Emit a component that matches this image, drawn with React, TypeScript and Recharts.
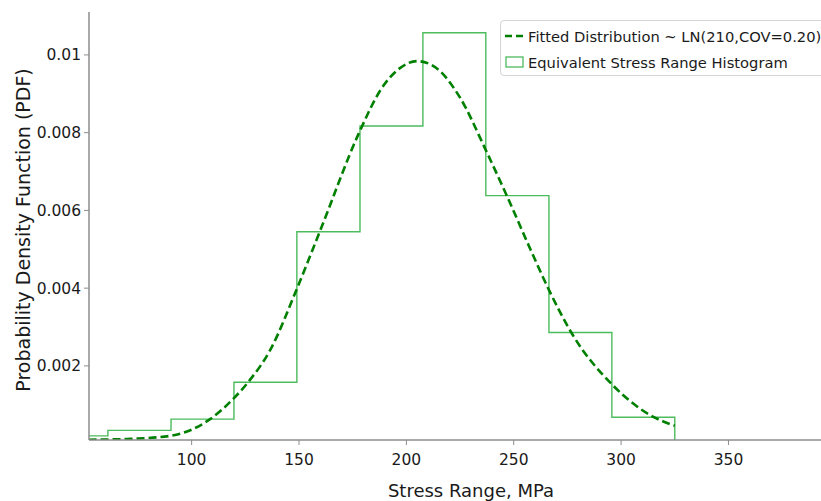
import React from 'react';
import { LineChart, Line, XAxis, YAxis, Legend } from 'recharts';

// Histogram: bin edges (MPa) and the density of each bin
const binEdges = [31.7, 61, 90.4, 119.7, 149, 178.4, 207.7, 237, 266.4, 295.7, 325];
const binDensity = [0.0002, 0.00034, 0.00063, 0.00158, 0.00545, 0.00817, 0.01057, 0.00638, 0.00286, 0.00068];

// Fitted lognormal curve, sampled points
const fitStress = [52, 70, 90, 100, 108.6, 119.7, 126.3, 136.5, 149, 160, 178, 188, 197, 205, 213, 225, 237, 247, 257.6, 266, 277, 296, 315, 325];
const fitDensity = [0.0001, 0.00012, 0.0002, 0.00036, 0.00063, 0.00117, 0.00158, 0.0024, 0.00398, 0.0055, 0.008, 0.0091, 0.00966, 0.00984, 0.0097, 0.0089, 0.00755, 0.00635, 0.00502, 0.004, 0.00284, 0.00151, 0.00069, 0.00046];

const xTicks = [100, 150, 200, 250, 300, 350];
const yTicks = [0.002, 0.004, 0.006, 0.008, 0.01];

const X_DOMAIN: [number, number] = [52.2, 408];
const Y_DOMAIN: [number, number] = [0.0000934, 0.011104];

const FONT = '"DejaVu Sans", sans-serif';
const AXIS = '#8c8c8c';
const HIST = '#4cbb5c';
const FIT = '#008000';

// step outline: start at the base, hold each bin height, drop back to the base at the end
const histData = [
  { x: binEdges[0], y: 0 },
  ...binDensity.map((d, i) => ({ x: binEdges[i], y: d })),
  { x: binEdges[binEdges.length - 1], y: 0 },
];

const fitData = fitStress.map((s, i) => ({ x: s, y: fitDensity[i] }));

const renderLegend = () => (
  <div
    style={{
      width: 330,
      height: 56,
      border: '1px solid #d4d4d4',
      borderRadius: 4,
      background: 'rgba(255,255,255,0.85)',
      fontFamily: FONT,
      fontSize: 14.7,
      color: '#1a1a1a',
      boxSizing: 'border-box',
      whiteSpace: 'nowrap',
    }}
  >
    <div style={{ display: 'flex', alignItems: 'center', height: 22, marginTop: 4, paddingLeft: 4 }}>
      <svg width={20} height={10} style={{ marginRight: 3 }}>
        <line x1={0} y1={5} x2={19} y2={5} stroke={FIT} strokeWidth={2.6} strokeDasharray="7 4" />
      </svg>
      <span>Fitted Distribution ~ LN(210,COV=0.20)</span>
    </div>
    <div style={{ display: 'flex', alignItems: 'center', height: 22, marginTop: 4, paddingLeft: 4 }}>
      <svg width={20} height={12} style={{ marginRight: 3 }}>
        <rect x={1} y={1} width={17} height={10} fill="none" stroke={HIST} strokeWidth={1.3} />
      </svg>
      <span>Equivalent Stress Range Histogram</span>
    </div>
  </div>
);

const XLabel = (props: any) => {
  const { viewBox } = props;
  return (
    <text
      x={viewBox.x + viewBox.width / 2}
      y={viewBox.y + 57}
      textAnchor="middle"
      fontFamily={FONT}
      fontSize={18}
      fill="#1a1a1a"
    >
      Stress Range, MPa
    </text>
  );
};

const YLabel = (props: any) => {
  const { viewBox } = props;
  const cx = viewBox.x + 23;
  const cy = viewBox.y + viewBox.height / 2 + 4;
  return (
    <text
      x={cx}
      y={cy}
      transform={`rotate(-90, ${cx}, ${cy})`}
      textAnchor="middle"
      dominantBaseline="central"
      fontFamily={FONT}
      fontSize={19}
      fill="#1a1a1a"
    >
      Probability Density Function (PDF)
    </text>
  );
};

const tickStyle = { fontFamily: FONT, fontSize: 15.5, fill: '#1a1a1a' };

export default function App() {
  return (
    <div
      style={{
        position: 'fixed',
        left: 0,
        top: 0,
        width: 821,
        height: 501,
        overflow: 'hidden',
        background: '#fff',
      }}
    >
      <LineChart width={880} height={501} margin={{ top: 12, right: 27, bottom: 0, left: 0 }}>
        <XAxis
          dataKey="x"
          type="number"
          domain={X_DOMAIN}
          allowDataOverflow
          ticks={xTicks}
          tick={tickStyle}
          tickSize={5}
          tickMargin={9}
          height={61}
          stroke={AXIS}
          axisLine={{ stroke: AXIS, strokeWidth: 1.5 }}
          tickLine={{ stroke: AXIS, strokeWidth: 1 }}
          label={{ content: <XLabel /> }}
        />
        <XAxis
          xAxisId="frame"
          orientation="top"
          type="number"
          domain={X_DOMAIN}
          allowDataOverflow
          height={0}
          tick={false}
          tickLine={false}
          axisLine={{ stroke: AXIS, strokeWidth: 1.5 }}
        />
        <YAxis
          type="number"
          domain={Y_DOMAIN}
          allowDataOverflow
          ticks={yTicks}
          tickFormatter={(v: number) => String(v)}
          tick={tickStyle}
          tickSize={5}
          tickMargin={3}
          width={89}
          axisLine={{ stroke: AXIS, strokeWidth: 1.5 }}
          tickLine={{ stroke: AXIS, strokeWidth: 1 }}
          label={{ content: <YLabel /> }}
        />
        <Legend
          layout="horizontal"
          verticalAlign="middle"
          align="center"
          content={renderLegend}
          wrapperStyle={{ position: 'absolute', left: 500, top: 20, width: 330 }}
        />
        <Line
          data={histData}
          dataKey="y"
          type="stepAfter"
          stroke={HIST}
          strokeWidth={1.4}
          dot={false}
          activeDot={false}
          isAnimationActive={false}
          legendType="none"
        />
        <Line
          data={fitData}
          dataKey="y"
          type="monotone"
          stroke={FIT}
          strokeWidth={2.6}
          strokeDasharray="8 4"
          dot={false}
          activeDot={false}
          isAnimationActive={false}
          legendType="none"
        />
      </LineChart>
    </div>
  );
}
